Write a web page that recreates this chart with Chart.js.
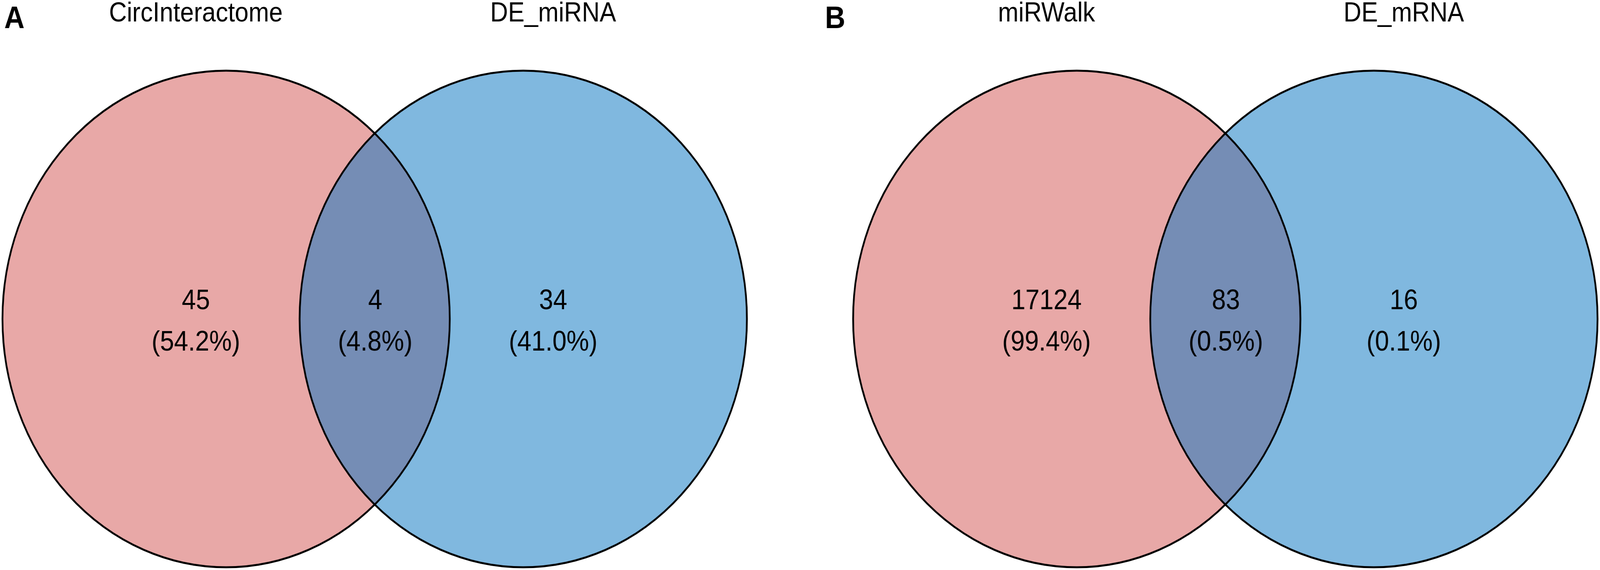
<!DOCTYPE html>
<html>
<head>
<meta charset="utf-8">
<script src="https://cdn.jsdelivr.net/npm/chart.js@4.4.1/dist/chart.umd.min.js"></script>
<style>
  html, body { margin: 0; padding: 0; background: #ffffff; overflow: hidden; }
  #venn { display: block; width: 100vw !important; height: 100vh !important; }
</style>
</head>
<body>
<canvas id="venn" width="4550" height="1460"></canvas>
<script>
// ---- data ----
const panelLetters = ['A', 'B'];
const setNamesA = ['CircInteractome', 'DE_miRNA'];
const setNamesB = ['miRWalk', 'DE_mRNA'];
// region counts: [only left set, intersection, only right set]
const countsA = [45, 4, 34];
const countsB = [17124, 83, 16];

// ---- layout (geometry in reference units) ----
const W = 4550, H = 1460;
const panelLeftCenters = [643, 3062];   // centre of left circle per panel
const centerGap = 845;                  // distance between circle centres
const circleR = 636;
const circleCY = 817;
const regionOffsets = [-86, 424, 930];  // label x offsets from left circle centre
const titleOffsets = [-86, 930];
const letterX = [12, 2346];

const COLORS = { left: '#E8A8A7', right: '#80B8DF', overlap: '#758DB5', line: '#000000' };
const FONT = "'Liberation Sans', Arial, Helvetica, sans-serif";

const panels = [
  { letter: panelLetters[0], names: setNamesA, counts: countsA },
  { letter: panelLetters[1], names: setNamesB, counts: countsB }
];

function pct(v, counts) {
  const total = counts.reduce((a, b) => a + b, 0);
  return '(' + (v / total * 100).toFixed(1) + '%)';
}

const leftPoints = panels.map((p, i) => ({ x: panelLeftCenters[i], y: circleCY }));
const rightPoints = panels.map((p, i) => ({ x: panelLeftCenters[i] + centerGap, y: circleCY }));

const vennPlugin = {
  id: 'vennPlugin',
  afterDatasetsDraw(chart) {
    const ctx = chart.ctx;
    const xs = chart.scales.x, ys = chart.scales.y;
    const metaL = chart.getDatasetMeta(0).data;
    const metaR = chart.getDatasetMeta(1).data;
    panels.forEach((p, i) => {
      const L = metaL[i], R = metaR[i];
      const rL = L.options.radius, rR = R.options.radius;
      if (rL > 0 && rR > 0) {
        ctx.save();
        ctx.beginPath();
        ctx.arc(L.x, L.y, rL, 0, Math.PI * 2);
        ctx.clip();
        ctx.beginPath();
        ctx.arc(R.x, R.y, rR, 0, Math.PI * 2);
        ctx.fillStyle = COLORS.overlap;
        ctx.fill();
        ctx.restore();
        ctx.save();
        ctx.lineWidth = 5;
        ctx.strokeStyle = COLORS.line;
        ctx.beginPath();
        ctx.arc(L.x, L.y, rL, 0, Math.PI * 2);
        ctx.stroke();
        ctx.beginPath();
        ctx.arc(R.x, R.y, rR, 0, Math.PI * 2);
        ctx.stroke();
        ctx.restore();
      }
      ctx.save();
      ctx.fillStyle = '#000000';
      ctx.textBaseline = 'alphabetic';
      ctx.textAlign = 'left';
      ctx.font = 'bold 80px ' + FONT;
      ctx.fillText(p.letter, xs.getPixelForValue(letterX[i]), ys.getPixelForValue(72));
      ctx.textAlign = 'center';
      ctx.font = '70px ' + FONT;
      p.names.forEach((n, k) => {
        ctx.fillText(n, xs.getPixelForValue(panelLeftCenters[i] + titleOffsets[k]), ys.getPixelForValue(55));
      });
      ctx.font = '72px ' + FONT;
      p.counts.forEach((c, k) => {
        const x = xs.getPixelForValue(panelLeftCenters[i] + regionOffsets[k]);
        ctx.fillText(String(c), x, ys.getPixelForValue(792));
        ctx.fillText(pct(c, p.counts), x, ys.getPixelForValue(898));
      });
      ctx.restore();
    });
  }
};

const chart = new Chart(document.getElementById('venn'), {
  type: 'bubble',
  data: {
    datasets: [
      { label: 'left sets', data: leftPoints, backgroundColor: COLORS.left, borderWidth: 0, clip: false },
      { label: 'right sets', data: rightPoints, backgroundColor: COLORS.right, borderWidth: 0, clip: false }
    ]
  },
  options: {
    responsive: false,
    devicePixelRatio: 1,
    animation: false,
    events: [],
    layout: { padding: 0, autoPadding: false },
    scales: {
      x: { type: 'linear', min: 0, max: W, display: false },
      y: { type: 'linear', min: 0, max: H, reverse: true, display: false }
    },
    plugins: { legend: { display: false }, tooltip: { enabled: false } }
  },
  plugins: [vennPlugin]
});

// circle radius in pixels, measured through the library's y scale
const ySc = chart.scales.y;
const rPx = Math.abs(ySc.getPixelForValue(circleR) - ySc.getPixelForValue(0));
chart.data.datasets[0].data = leftPoints.map(p => ({ x: p.x, y: p.y, r: rPx }));
chart.data.datasets[1].data = rightPoints.map(p => ({ x: p.x, y: p.y, r: rPx }));
chart.update();
</script>
</body>
</html>
